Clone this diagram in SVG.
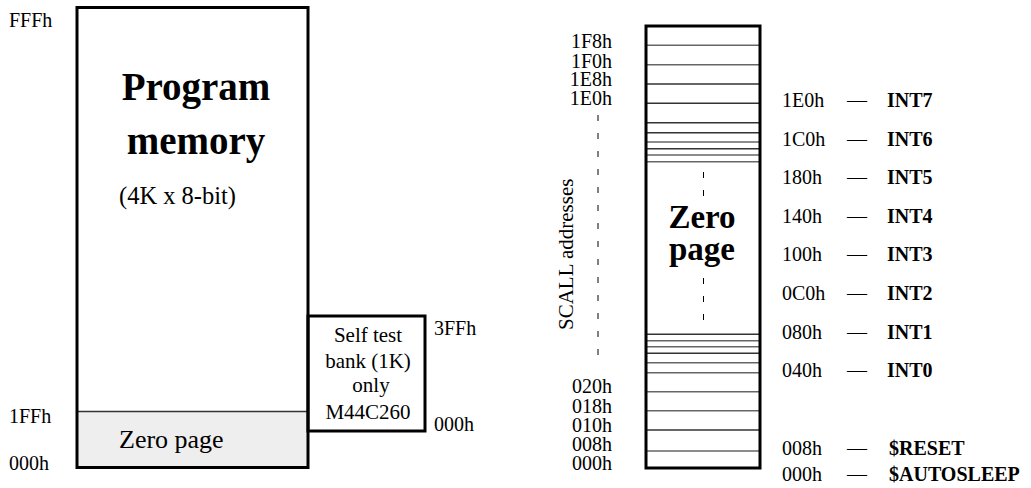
<svg xmlns="http://www.w3.org/2000/svg" width="1031" height="488" viewBox="0 0 1031 488">
<style>
text{font-family:"Liberation Serif","Times New Roman",serif;fill:#000}
.t{font-size:20px}
.b{font-size:20px;font-weight:bold}
.e{text-anchor:end}
.m{text-anchor:middle}
.box{fill:none;stroke:#000;stroke-width:3}
.ln{stroke:#333;stroke-width:1.5}
.lg{stroke:#666;stroke-width:1.5}
.dash{stroke:#000;stroke-width:1;stroke-dasharray:6 12}
</style>
<rect width="1031" height="488" fill="#fff"/>
<g id="program-memory">
<rect x="77" y="411.5" width="231" height="56" fill="#eeeeee"/>
<line x1="77" y1="411.5" x2="308" y2="411.5" class="ln"/>
<rect x="77" y="7.5" width="231" height="460" class="box"/>
<text x="196" y="100" class="m" style="font-size:39px;font-weight:bold">Program</text>
<text x="196" y="154" class="m" style="font-size:39px;font-weight:bold">memory</text>
<text x="119" y="204" style="font-size:24.5px">(4K x 8-bit)</text>
<text x="119" y="448" style="font-size:26px">Zero page</text>
<text x="9" y="27" class="t">FFFh</text>
<text x="9" y="423" class="t">1FFh</text>
<text x="9" y="470" class="t">000h</text>
</g>
<g id="self-test-bank">
<rect x="308" y="316" width="117" height="115" class="box"/>
<text x="368" y="342" class="m" style="font-size:21px">Self test</text>
<text x="368" y="368" class="m" style="font-size:21px">bank (1K)</text>
<text x="371" y="392" class="m" style="font-size:21px">only</text>
<text x="368" y="419" class="m" style="font-size:21px">M44C260</text>
<text x="434" y="335" class="t">3FFh</text>
<text x="434" y="431" class="t">000h</text>
</g>
<g id="zero-page">
<line x1="646" y1="45.3" x2="760" y2="45.3" class="lg"/>
<line x1="646" y1="64.7" x2="760" y2="64.7" class="lg"/>
<line x1="646" y1="84" x2="760" y2="84" class="ln"/>
<line x1="646" y1="103.3" x2="760" y2="103.3" class="ln"/>
<line x1="646" y1="122.7" x2="760" y2="122.7" class="ln"/>
<line x1="646" y1="132.7" x2="760" y2="132.7" class="ln"/>
<line x1="646" y1="142" x2="760" y2="142" class="lg"/>
<line x1="646" y1="148.7" x2="760" y2="148.7" class="ln"/>
<line x1="646" y1="155" x2="760" y2="155" class="lg"/>
<line x1="646" y1="161.7" x2="760" y2="161.7" class="lg"/>
<line x1="646" y1="334.3" x2="760" y2="334.3" class="ln"/>
<line x1="646" y1="340.7" x2="760" y2="340.7" class="lg"/>
<line x1="646" y1="346.7" x2="760" y2="346.7" class="lg"/>
<line x1="646" y1="353.3" x2="760" y2="353.3" class="ln"/>
<line x1="646" y1="362.7" x2="760" y2="362.7" class="lg"/>
<line x1="646" y1="372.7" x2="760" y2="372.7" class="lg"/>
<line x1="646" y1="391.7" x2="760" y2="391.7" class="lg"/>
<line x1="646" y1="410.7" x2="760" y2="410.7" class="lg"/>
<line x1="646" y1="430" x2="760" y2="430" class="ln"/>
<line x1="646" y1="451" x2="760" y2="451" class="lg"/>
<rect x="646" y="26" width="114" height="442" class="box"/>
<line x1="703.5" y1="172" x2="703.5" y2="202" class="dash"/>
<line x1="703.5" y1="278" x2="703.5" y2="328" class="dash"/>
<text x="702" y="228" class="m" style="font-size:33px;font-weight:bold">Zero</text>
<text x="702" y="260" class="m" style="font-size:33px;font-weight:bold">page</text>
<text x="612" y="48" class="t e">1F8h</text>
<text x="612" y="68" class="t e">1F0h</text>
<text x="612" y="86" class="t e">1E8h</text>
<text x="612" y="105" class="t e">1E0h</text>
<text x="612" y="393" class="t e">020h</text>
<text x="612" y="413" class="t e">018h</text>
<text x="612" y="432" class="t e">010h</text>
<text x="612" y="451" class="t e">008h</text>
<text x="612" y="470" class="t e">000h</text>
</g>
<g id="scall">
<line x1="598" y1="115" x2="598" y2="364" class="dash"/>
<text transform="translate(573 330) rotate(-90)" style="font-size:21px">SCALL addresses</text>
</g>
<g id="vectors">
<text x="782" y="107" class="t">1E0h</text><text x="847" y="107" class="t">—</text><text x="887" y="107" class="b">INT7</text>
<text x="782" y="146" class="t">1C0h</text><text x="847" y="146" class="t">—</text><text x="887" y="146" class="b">INT6</text>
<text x="782" y="184" class="t">180h</text><text x="847" y="184" class="t">—</text><text x="887" y="184" class="b">INT5</text>
<text x="782" y="222.5" class="t">140h</text><text x="847" y="222.5" class="t">—</text><text x="887" y="222.5" class="b">INT4</text>
<text x="782" y="261" class="t">100h</text><text x="847" y="261" class="t">—</text><text x="887" y="261" class="b">INT3</text>
<text x="782" y="300" class="t">0C0h</text><text x="847" y="300" class="t">—</text><text x="887" y="300" class="b">INT2</text>
<text x="782" y="338.5" class="t">080h</text><text x="847" y="338.5" class="t">—</text><text x="887" y="338.5" class="b">INT1</text>
<text x="782" y="376.5" class="t">040h</text><text x="847" y="376.5" class="t">—</text><text x="887" y="376.5" class="b">INT0</text>
<text x="782" y="455" class="t">008h</text><text x="847" y="455" class="t">—</text><text x="889" y="455" class="b">$RESET</text>
<text x="782" y="481" class="t">000h</text><text x="847" y="481" class="t">—</text><text x="889" y="481" class="b">$AUTOSLEEP</text>
</g>
</svg>
